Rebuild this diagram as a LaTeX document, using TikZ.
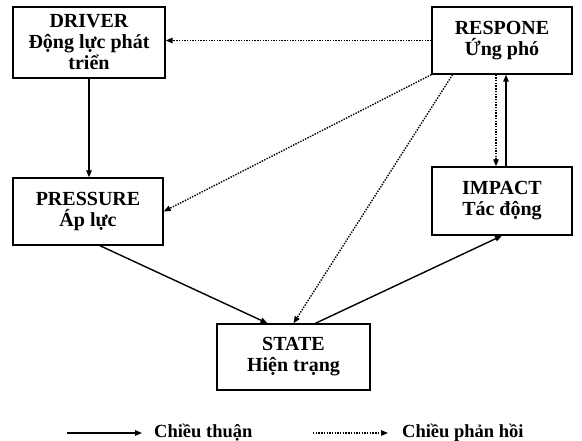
\documentclass[tikz,border=0pt]{standalone}
\usepackage{fontspec}
\setmainfont{Liberation Serif}
\usetikzlibrary{arrows.meta,calc}
\tikzset{
  blk/.style={draw=black,line width=1.4pt,fill=white,align=center,
    font=\fontsize{20}{21}\selectfont\bfseries,inner sep=2pt},
  fw/.style={-{Triangle[length=7pt,width=5.5pt]},line width=1.4pt},
  fb/.style={-{Triangle[length=7pt,width=5.5pt]},line width=1.4pt,dash pattern=on 1.4pt off 1.3pt},
  lgd/.style={font=\fontsize{18.5}{20}\selectfont\bfseries,inner sep=0pt},
}
\begin{document}
\begin{tikzpicture}[x=1pt,y=1pt]
\useasboundingbox (0,0) rectangle (582,441);
\node[blk,minimum width=152pt,minimum height=71pt] (drv) at (89,398.5) {DRIVER\\Động lực phát\\triển};
\node[blk,minimum width=140pt,minimum height=67pt] (rsp) at (502,400.5) {RESPONE\\Ứng phó};
\node[blk,minimum width=150pt,minimum height=67pt] (prs) at (88,229.5) {PRESSURE\\Áp lực};
\node[blk,minimum width=140pt,minimum height=68pt] (imp) at (502,240) {IMPACT\\Tác động};
\node[blk,minimum width=153pt,minimum height=66pt] (sta) at (293.5,84) {STATE\\Hiện trạng};
% chieu thuan
\draw[fw] (drv.south) -- (drv.south |- prs.north);
\draw[fw] ([xshift=12pt]prs.south) -- ([xshift=-26pt]sta.north);
\draw[fw] ([xshift=22pt]sta.north) -- (imp.south);
\draw[fw] ([xshift=4pt]imp.north) -- ([xshift=4pt]rsp.south);
% chieu phan hoi
\draw[fb] (rsp.west) -- (rsp.west -| drv.east);
\draw[fb] (rsp.south west) -- (prs.east);
\draw[fb] ($(rsp.south west)!0.15!(rsp.south east)$) -- (sta.north);
\draw[fb] ([xshift=-6pt]rsp.south) -- ([xshift=-6pt]imp.north);
% chu thich
\coordinate (la) at (67,8);
\coordinate (lb) at (142,8);
\node[lgd,anchor=base west] (lt) at (154,3) {Chiều thuận};
\draw[fw] (la) -- (lb);
\coordinate (ma) at (313,8);
\coordinate (mb) at (388,8);
\node[lgd,anchor=base west] (mt) at (402,3) {Chiều phản hồi};
\draw[fb] (ma) -- (mb);
\end{tikzpicture}
\end{document}
